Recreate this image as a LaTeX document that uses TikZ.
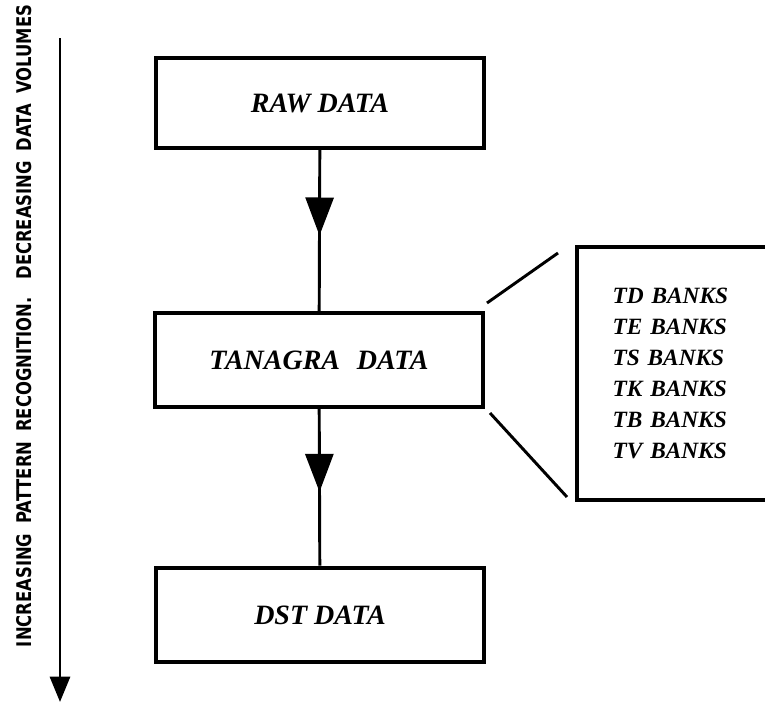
\documentclass[tikz,border=0pt]{standalone}
\usepackage{fontspec}
\setmainfont{Liberation Serif}
\newfontfamily\axisfont{DejaVu Sans}
\usepackage{graphicx}
\usetikzlibrary{arrows.meta,decorations.markings}

\begin{document}
\begin{tikzpicture}[x=0.75pt,y=-0.75pt]
    \tikzstyle{stage}=[draw,line width=3.2pt,minimum width=246pt,
      font=\fontsize{21}{24}\selectfont\bfseries\itshape];
    \tikzstyle{banklist}=[draw,line width=3.2pt,minimum height=190pt,
      text width=113pt,align=left,inner xsep=27pt,
      font=\fontsize{17.5}{23.25}\selectfont\bfseries\itshape];
    \tikzstyle{flow}=[line width=2.2pt,postaction={decorate},
      decoration={markings,mark=at position 0.53 with
        {\arrow{Triangle[width=21pt,length=28.5pt]}}}];
    \tikzstyle{callout}=[line width=2.2pt];

    \clip (0,0) rectangle (765,703);

    \node (raw) [stage,minimum height=67.5pt] at (320,103) {RAW DATA};
    \node (tanagra) [stage,minimum height=70pt] at (319,360)
    {TANAGRA\hspace{0.6em}DATA};
    \node (dst) [stage,minimum height=71pt] at (320,615) {DST DATA};

    \node (banks) [banklist] at (688,373.5) {TD BANKS\\TE BANKS\\TS
    BANKS\\TK BANKS\\TB BANKS\\TV BANKS};

    % ends of the two callout strokes
    \coordinate (c1) at (487,303); \coordinate (c2) at (558,253);
    \coordinate (c3) at (490,413); \coordinate (c4) at (567,497);

    \path (raw) edge[flow] (tanagra) (tanagra) edge[flow] (dst);
    \draw[callout] (c1) -- (c2) (c3) -- (c4);

    % the axis at the left
    \coordinate (axtop) at (60,38); \coordinate (axend) at (60,702);
    \draw[line width=2.2pt,-{Triangle[width=15pt,length=19pt]}] (axtop)
    -- (axend);
    \node (axlabel) [rotate=90,inner sep=0pt] at (24,326)
    {\resizebox{481.5pt}{11.25pt}{\axisfont\bfseries
    INCREASING\hspace{0.6em}PATTERN\hspace{0.6em}RECOGNITION.\hspace{1.1em}%
    DECREASING\hspace{0.6em}DATA\hspace{0.6em}VOLUMES}};
\end{tikzpicture}
\end{document}
